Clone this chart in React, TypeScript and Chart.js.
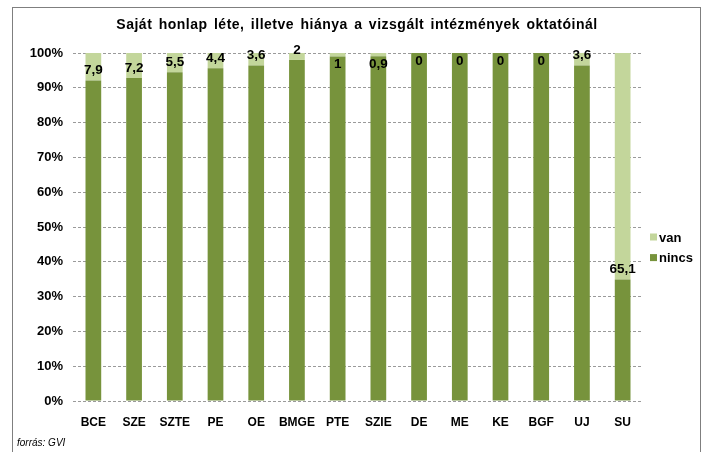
import React, { useEffect, useRef } from "react";
import { Chart, registerables } from "chart.js";

Chart.register(...registerables);

const titleText = "Saját honlap léte, illetve hiánya a vizsgált intézmények oktatóinál";
const sourceText = "forrás: GVI";
const categories = ["BCE", "SZE", "SZTE", "PE", "OE", "BMGE", "PTE", "SZIE", "DE", "ME", "KE", "BGF", "UJ", "SU"];
const nincsValues = [92.1, 92.8, 94.5, 95.6, 96.4, 98, 99, 99.1, 100, 100, 100, 100, 96.4, 34.9];
const vanValues = [7.9, 7.2, 5.5, 4.4, 3.6, 2, 1, 0.9, 0, 0, 0, 0, 3.6, 65.1];
const vanLabels = ["7,9", "7,2", "5,5", "4,4", "3,6", "2", "1", "0,9", "0", "0", "0", "0", "3,6", "65,1"];
const yTickStep = 10;
const yMax = 100;

const DARK = "#77933C";
const LIGHT = "#C3D69B";
const FONT = "'Liberation Sans', Arial, sans-serif";

const overlayPlugin = {
  id: "overlay",
  afterDatasetsDraw(chart: any) {
    const ctx = chart.ctx;
    const meta = chart.getDatasetMeta(0);
    ctx.save();
    ctx.fillStyle = "#000";
    ctx.font = `bold 13.5px ${FONT}`;
    ctx.textAlign = "center";
    ctx.textBaseline = "middle";
    meta.data.forEach((bar: any, i: number) => {
      const top = bar.y;
      const y = vanValues[i] >= 1.5 ? top - 10 : top + 8;
      ctx.fillText(vanLabels[i], bar.x, y);
    });
    ctx.restore();
  },
  afterDraw(chart: any) {
    const ctx = chart.ctx;
    const area = chart.chartArea;
    ctx.save();
    // title
    ctx.fillStyle = "#000";
    ctx.font = `bold 14px ${FONT}`;
    ctx.textAlign = "center";
    ctx.textBaseline = "middle";
    try { (ctx as any).wordSpacing = "2px"; (ctx as any).letterSpacing = "0.5px"; } catch (e) {}
    ctx.fillText(titleText, 357, 25);
    try { (ctx as any).wordSpacing = "0px"; (ctx as any).letterSpacing = "0px"; } catch (e) {}
    // legend
    const items = [
      { label: "van", color: LIGHT },
      { label: "nincs", color: DARK },
    ];
    const lx = area.right + 7;
    const ly0 = 237;
    ctx.font = `bold 13px ${FONT}`;
    ctx.textAlign = "left";
    items.forEach((it, k) => {
      const cy = ly0 + k * 20.6;
      ctx.fillStyle = it.color;
      ctx.fillRect(lx, cy - 3.5, 7, 7);
      ctx.fillStyle = "#000";
      ctx.fillText(it.label, lx + 9, cy + 1);
    });
    // source
    ctx.font = `italic 10px ${FONT}`;
    ctx.fillStyle = "#000";
    ctx.textAlign = "left";
    ctx.fillText(sourceText, 17, 443);
    ctx.restore();
  },
};

function BarChart() {
  const ref = useRef<HTMLCanvasElement | null>(null);
  useEffect(() => {
    if (!ref.current) return;
    const chart = new Chart(ref.current, {
      type: "bar",
      data: {
        labels: categories,
        datasets: [
          { label: "nincs", data: nincsValues, backgroundColor: DARK, borderWidth: 0 },
          { label: "van", data: vanValues, backgroundColor: LIGHT, borderWidth: 0 },
        ],
      },
      options: {
        responsive: false,
        animation: false,
        events: [],
        layout: { padding: { top: 53, left: 12, right: 64, bottom: 21 } },
        datasets: { bar: { barPercentage: 0.386, categoryPercentage: 1 } },
        plugins: {
          legend: { display: false },
          title: { display: false },
          tooltip: { enabled: false },
        },
        scales: {
          x: {
            stacked: true,
            grid: { display: false, drawTicks: false },
            border: { display: false },
            ticks: {
              color: "#000",
              font: { family: FONT, size: 12, weight: "bold" },
              padding: 14,
              maxRotation: 0,
              autoSkip: false,
            },
            afterFit(scale: any) { scale.height = 30; },
          },
          y: {
            stacked: true,
            min: 0,
            max: yMax,
            grid: { color: "#9a9a9a", lineWidth: 1, drawTicks: false },
            border: { display: false, dash: [3, 2] },
            ticks: {
              stepSize: yTickStep,
              color: "#000",
              font: { family: FONT, size: 13, weight: "bold" },
              padding: 10,
              callback: (v: any) => `${v}%`,
            },
            afterFit(scale: any) { scale.width = 61; },
          },
        },
      },
      plugins: [overlayPlugin],
    } as any);
    return () => chart.destroy();
  }, []);
  return <canvas ref={ref} width={707} height={452} style={{ display: "block" }} />;
}

export default function App() {
  return (
    <div style={{ position: "fixed", left: 0, top: 0, width: 707, height: 452, background: "#fff", overflow: "hidden" }}>
      <div
        style={{
          position: "absolute",
          left: 12,
          top: 7,
          width: 689,
          height: 470,
          border: "1.5px solid #7f7f7f",
          boxSizing: "border-box",
        }}
      />
      <div style={{ position: "absolute", left: 0, top: 0 }}>
        <BarChart />
      </div>
    </div>
  );
}
